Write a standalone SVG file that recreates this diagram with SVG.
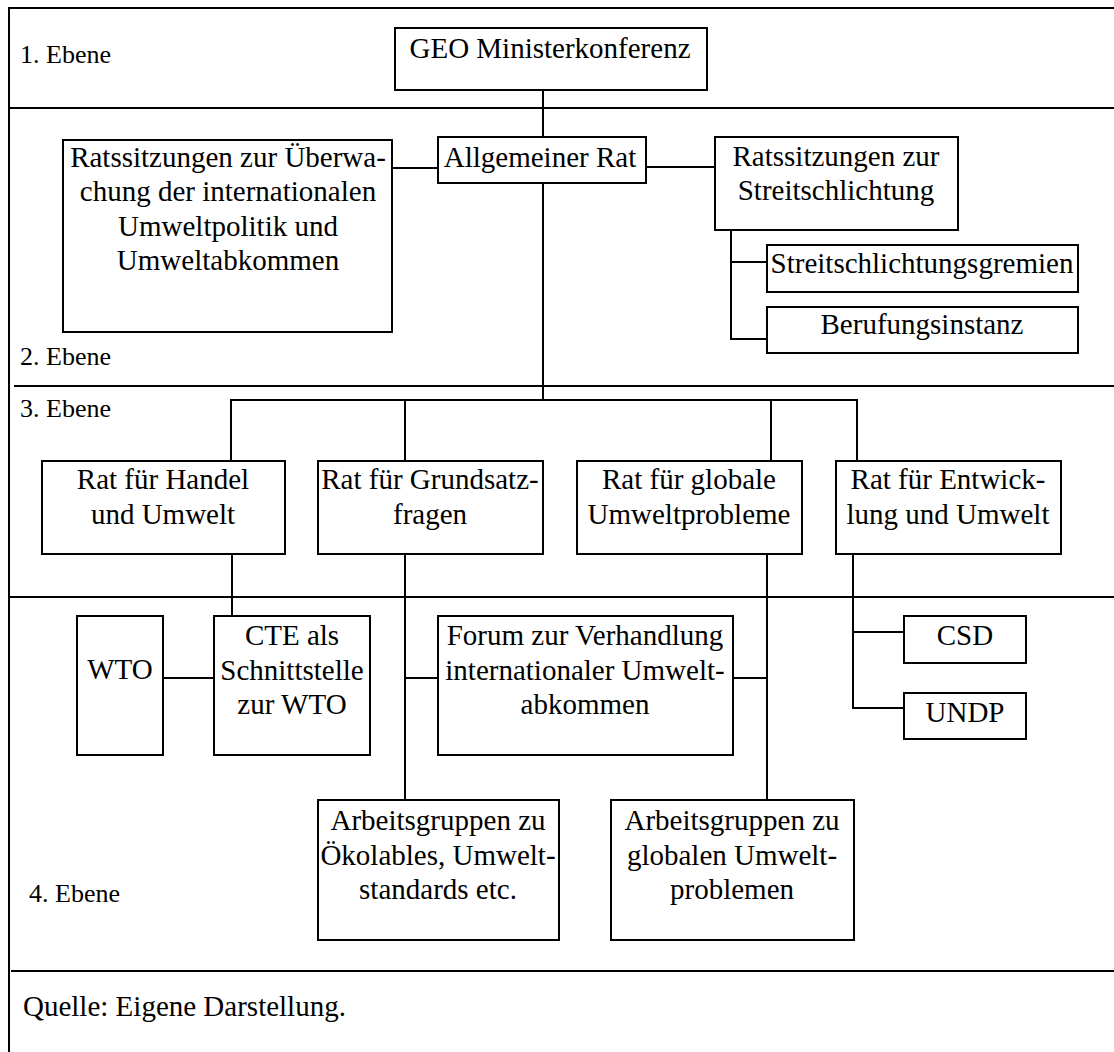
<svg xmlns="http://www.w3.org/2000/svg" width="1114" height="1052" viewBox="0 0 1114 1052">
<style>
rect{fill:#fff;stroke:#000;stroke-width:2}
line,path{stroke:#000;stroke-width:2;fill:none}
text{font-family:"Liberation Serif","Times New Roman",serif;font-size:29px;fill:#000}
.c{text-anchor:middle}
.lbl{font-size:26px}
</style>
<rect x="0" y="0" width="1114" height="1052" style="stroke:none"/>
<g id="frame">
<line x1="9" y1="7" x2="9" y2="1052"/>
<line x1="8" y1="8" x2="1114" y2="8"/>
<line x1="9" y1="108" x2="1114" y2="108"/>
<line x1="14" y1="386" x2="1114" y2="386"/>
<line x1="9" y1="597" x2="1114" y2="597"/>
<line x1="11" y1="971" x2="1114" y2="971"/>
<text class="lbl" x="20" y="63">1. Ebene</text>
<text class="lbl" x="20" y="365">2. Ebene</text>
<text class="lbl" x="20" y="417">3. Ebene</text>
<text class="lbl" x="29" y="902">4. Ebene</text>
<text x="23" y="1016">Quelle: Eigene Darstellung.</text>
</g>
<g id="connectors">
<line x1="543" y1="90" x2="543" y2="137"/>
<line x1="543" y1="183" x2="543" y2="400"/>
<path d="M231 461V400H857V461"/>
<line x1="405" y1="400" x2="405" y2="461"/>
<line x1="771" y1="400" x2="771" y2="461"/>
<line x1="392" y1="168" x2="438" y2="168"/>
<line x1="646" y1="167" x2="715" y2="167"/>
<path d="M731 230V339H767"/>
<line x1="731" y1="262" x2="767" y2="262"/>
<line x1="232" y1="554" x2="232" y2="616"/>
<line x1="163" y1="678" x2="214" y2="678"/>
<line x1="405" y1="554" x2="405" y2="800"/>
<line x1="405" y1="678" x2="438" y2="678"/>
<line x1="767" y1="554" x2="767" y2="800"/>
<line x1="733" y1="678" x2="767" y2="678"/>
<path d="M853 554V708H904"/>
<line x1="853" y1="632" x2="904" y2="632"/>
</g>
<g id="geo"><rect x="395" y="28" width="312" height="62"/><text class="c" x="550" y="58">GEO Ministerkonferenz</text></g>
<g id="allgemeiner-rat"><rect x="438" y="137" width="208" height="46"/><text class="c" x="540" y="167">Allgemeiner Rat</text></g>
<g id="ueberwachung"><rect x="63" y="140" width="329" height="192"/>
<text class="c" x="228" y="167">Ratssitzungen zur Überwa-</text>
<text class="c" x="228" y="201">chung der internationalen</text>
<text class="c" x="228" y="236">Umweltpolitik und</text>
<text class="c" x="228" y="270">Umweltabkommen</text></g>
<g id="streitschlichtung"><rect x="715" y="137" width="243" height="93"/>
<text class="c" x="836" y="166">Ratssitzungen zur</text>
<text class="c" x="836" y="200">Streitschlichtung</text></g>
<g id="gremien"><rect x="767" y="245" width="311" height="47"/><text class="c" x="922" y="273">Streitschlichtungsgremien</text></g>
<g id="berufung"><rect x="767" y="307" width="311" height="46"/><text class="c" x="922" y="334">Berufungsinstanz</text></g>
<g id="handel"><rect x="42" y="461" width="243" height="93"/>
<text class="c" x="163" y="489">Rat für Handel</text>
<text class="c" x="163" y="524">und Umwelt</text></g>
<g id="grundsatz"><rect x="318" y="461" width="225" height="93"/>
<text class="c" x="430" y="489">Rat für Grundsatz-</text>
<text class="c" x="430" y="524">fragen</text></g>
<g id="globale"><rect x="577" y="461" width="225" height="93"/>
<text class="c" x="689" y="489">Rat für globale</text>
<text class="c" x="689" y="524">Umweltprobleme</text></g>
<g id="entwicklung"><rect x="836" y="461" width="225" height="93"/>
<text class="c" x="948" y="489">Rat für Entwick-</text>
<text class="c" x="948" y="524">lung und Umwelt</text></g>
<g id="wto"><rect x="77" y="616" width="86" height="139"/><text class="c" x="120" y="679">WTO</text></g>
<g id="cte"><rect x="214" y="616" width="156" height="139"/>
<text class="c" x="292" y="645">CTE als</text>
<text class="c" x="292" y="680">Schnittstelle</text>
<text class="c" x="292" y="714">zur WTO</text></g>
<g id="forum"><rect x="438" y="616" width="295" height="139"/>
<text class="c" x="585" y="645">Forum zur Verhandlung</text>
<text class="c" x="585" y="680">internationaler Umwelt-</text>
<text class="c" x="585" y="714">abkommen</text></g>
<g id="csd"><rect x="904" y="616" width="122" height="47"/><text class="c" x="965" y="645">CSD</text></g>
<g id="undp"><rect x="904" y="693" width="122" height="46"/><text class="c" x="965" y="722">UNDP</text></g>
<g id="ag-oeko"><rect x="318" y="800" width="241" height="140"/>
<text class="c" x="438" y="830">Arbeitsgruppen zu</text>
<text class="c" x="438" y="865">Ökolables, Umwelt-</text>
<text class="c" x="438" y="899">standards etc.</text></g>
<g id="ag-global"><rect x="611" y="800" width="243" height="140"/>
<text class="c" x="732" y="830">Arbeitsgruppen zu</text>
<text class="c" x="732" y="865">globalen Umwelt-</text>
<text class="c" x="732" y="899">problemen</text></g>
</svg>
